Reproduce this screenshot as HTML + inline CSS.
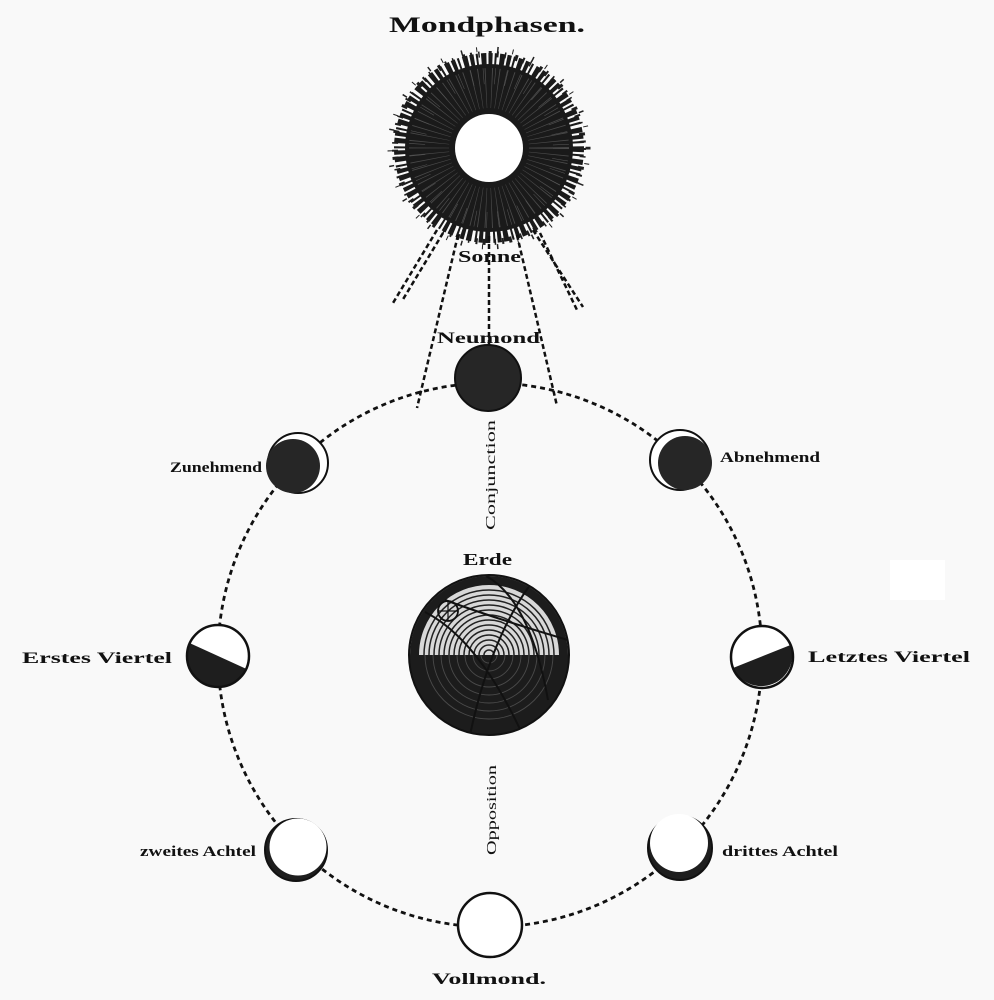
<!DOCTYPE html>
<html><head><meta charset="utf-8"><style>
html,body{margin:0;padding:0;background:#f9f9f9;}
svg{display:block;}
text{font-family:"Liberation Serif",serif;fill:#111;font-weight:bold;}
</style></head><body>
<svg width="994" height="1000" viewBox="0 0 994 1000" xmlns="http://www.w3.org/2000/svg">
<defs>
<clipPath id="top"><rect x="400" y="560" width="180" height="95"/></clipPath>
<clipPath id="bot"><rect x="400" y="655" width="180" height="100"/></clipPath>
<clipPath id="earth"><circle cx="489" cy="655" r="79"/></clipPath>
</defs>
<rect x="0" y="0" width="994" height="1000" fill="#f9f9f9"/>
<rect x="890" y="560" width="55" height="40" fill="#fff"/>

<!-- Title -->
<text x="389" y="32" font-size="22" textLength="196" lengthAdjust="spacingAndGlyphs">Mondphasen.</text>

<!-- Sun -->
<g>
<circle cx="489" cy="148" r="84" fill="#1a1a1a"/>
<circle cx="489" cy="148" r="88" fill="none" stroke="#1a1a1a" stroke-width="14" stroke-dasharray="4 2 2 3 5 2"/>
<circle cx="489" cy="148" r="94" fill="none" stroke="#1e1e1e" stroke-width="6" stroke-dasharray="2 6 1.5 9 3 5"/>
<circle cx="489" cy="148" r="99" fill="none" stroke="#222" stroke-width="5" stroke-dasharray="1.5 14 1 20"/>
<circle cx="489" cy="148" r="60" fill="none" stroke="#4a4a4a" stroke-width="40" stroke-dasharray="0.7 5"/>
<circle cx="489" cy="148" r="72" fill="none" stroke="#5a5a5a" stroke-width="16" stroke-dasharray="0.5 11"/>
<circle cx="489" cy="148" r="34" fill="#fff"/>
</g>
<!-- sun rays -->
<g stroke="#111" stroke-width="2.5" stroke-dasharray="5 3" fill="none">
<line x1="437" y1="230" x2="393" y2="303"/>
<line x1="443" y1="233" x2="402" y2="301"/>
<line x1="533" y1="230" x2="583" y2="307"/>
<line x1="540" y1="233" x2="577" y2="310"/>
<line x1="458" y1="235" x2="417" y2="408"/>
<line x1="489" y1="236" x2="489" y2="346"/>
<line x1="517" y1="235" x2="557" y2="406"/>
</g>
<text x="458" y="262" font-size="17" textLength="63" lengthAdjust="spacingAndGlyphs">Sonne</text>
<text x="437" y="343" font-size="16" textLength="103" lengthAdjust="spacingAndGlyphs">Neumond</text>

<!-- Orbit -->
<circle cx="490" cy="655" r="272" fill="none" stroke="#111" stroke-width="2.8" stroke-dasharray="5 4"/>

<!-- Neumond -->
<circle cx="488" cy="378" r="33" fill="#262626" stroke="#111" stroke-width="2"/>

<!-- Zunehmend -->
<circle cx="298" cy="463" r="30" fill="#fff" stroke="#111" stroke-width="2"/>
<circle cx="293" cy="466" r="27" fill="#262626"/>
<text x="170" y="472" font-size="15" textLength="92" lengthAdjust="spacingAndGlyphs">Zunehmend</text>

<!-- Abnehmend -->
<circle cx="680" cy="460" r="30" fill="#fff" stroke="#111" stroke-width="2"/>
<circle cx="685" cy="463" r="27" fill="#262626"/>
<text x="720" y="462" font-size="15" textLength="100" lengthAdjust="spacingAndGlyphs">Abnehmend</text>

<!-- Erstes Viertel -->
<circle cx="218" cy="656" r="31" fill="#fff"/>
<path d="M189.5 643 L246.5 669 A31 31 0 0 1 189.5 643 Z" fill="#1e1e1e"/>
<circle cx="218" cy="656" r="31" fill="none" stroke="#111" stroke-width="2.5"/>
<text x="22" y="663" font-size="16" textLength="150" lengthAdjust="spacingAndGlyphs">Erstes Viertel</text>

<!-- Letztes Viertel -->
<circle cx="762" cy="657" r="31" fill="#fff"/>
<path d="M733 668 L790.5 645 A31 31 0 0 1 733 668 Z" fill="#1e1e1e"/>
<circle cx="762" cy="657" r="31" fill="none" stroke="#111" stroke-width="2.5"/>
<text x="808" y="662" font-size="16" textLength="162" lengthAdjust="spacingAndGlyphs">Letztes Viertel</text>

<!-- zweites Achtel -->
<circle cx="296" cy="850" r="31" fill="#1e1e1e" stroke="#111" stroke-width="2"/>
<circle cx="298" cy="847" r="28.5" fill="#fff"/>
<text x="140" y="856" font-size="15" textLength="116" lengthAdjust="spacingAndGlyphs">zweites Achtel</text>

<!-- drittes Achtel -->
<circle cx="680" cy="848" r="32" fill="#1e1e1e" stroke="#111" stroke-width="2"/>
<circle cx="679" cy="843" r="29" fill="#fff"/>
<text x="722" y="856" font-size="15" textLength="116" lengthAdjust="spacingAndGlyphs">drittes Achtel</text>

<!-- Vollmond -->
<circle cx="490" cy="925" r="32" fill="#fff" stroke="#111" stroke-width="2.5"/>
<text x="432" y="984" font-size="16" textLength="114" lengthAdjust="spacingAndGlyphs">Vollmond.</text>

<!-- Conjunction / Opposition -->
<text transform="translate(495,530) rotate(-90)" font-size="14" textLength="110" lengthAdjust="spacingAndGlyphs" style="font-weight:normal">Conjunction</text>
<text transform="translate(496,855) rotate(-90)" font-size="14" textLength="90" lengthAdjust="spacingAndGlyphs" style="font-weight:normal">Opposition</text>

<!-- Erde -->
<text x="463" y="565" font-size="17" textLength="49" lengthAdjust="spacingAndGlyphs">Erde</text>
<circle cx="489" cy="655" r="80" fill="#1c1c1c"/>
<g clip-path="url(#earth)">
<g clip-path="url(#top)">
<rect x="405" y="570" width="170" height="85" fill="#d8d8d8"/>
<g fill="none" stroke="#222" stroke-width="1.5">
<circle cx="489" cy="655" r="5"/><circle cx="489" cy="655" r="10"/><circle cx="489" cy="655" r="15"/>
<circle cx="489" cy="655" r="20"/><circle cx="489" cy="655" r="25"/><circle cx="489" cy="655" r="30"/>
<circle cx="489" cy="655" r="35"/><circle cx="489" cy="655" r="40"/><circle cx="489" cy="655" r="45"/>
<circle cx="489" cy="655" r="50"/><circle cx="489" cy="655" r="55"/><circle cx="489" cy="655" r="60"/>
<circle cx="489" cy="655" r="65"/>
</g>
<circle cx="489" cy="655" r="76" fill="none" stroke="#1c1c1c" stroke-width="12"/>
</g>
<g clip-path="url(#bot)" fill="none" stroke="#4a4a4a" stroke-width="0.9">
<circle cx="489" cy="655" r="8"/><circle cx="489" cy="655" r="16"/><circle cx="489" cy="655" r="24"/>
<circle cx="489" cy="655" r="32"/><circle cx="489" cy="655" r="40"/><circle cx="489" cy="655" r="48"/>
<circle cx="489" cy="655" r="56"/><circle cx="489" cy="655" r="64"/>
</g>
<g fill="none" stroke="#111" stroke-width="2">
<path d="M486 576 Q 530 600 548 700"/>
<path d="M425 612 Q 480 640 525 740"/>
<path d="M445 600 Q 500 620 568 640"/>
<path d="M530 585 Q 490 640 470 735"/>
</g>
<circle cx="448" cy="611" r="10" fill="none" stroke="#111" stroke-width="1.8"/>
<line x1="438" y1="611" x2="458" y2="611" stroke="#111" stroke-width="1.2"/>
<line x1="448" y1="601" x2="448" y2="621" stroke="#111" stroke-width="1.2"/>
</g>
<circle cx="489" cy="655" r="80" fill="none" stroke="#111" stroke-width="2"/>
</svg>
</body></html>
